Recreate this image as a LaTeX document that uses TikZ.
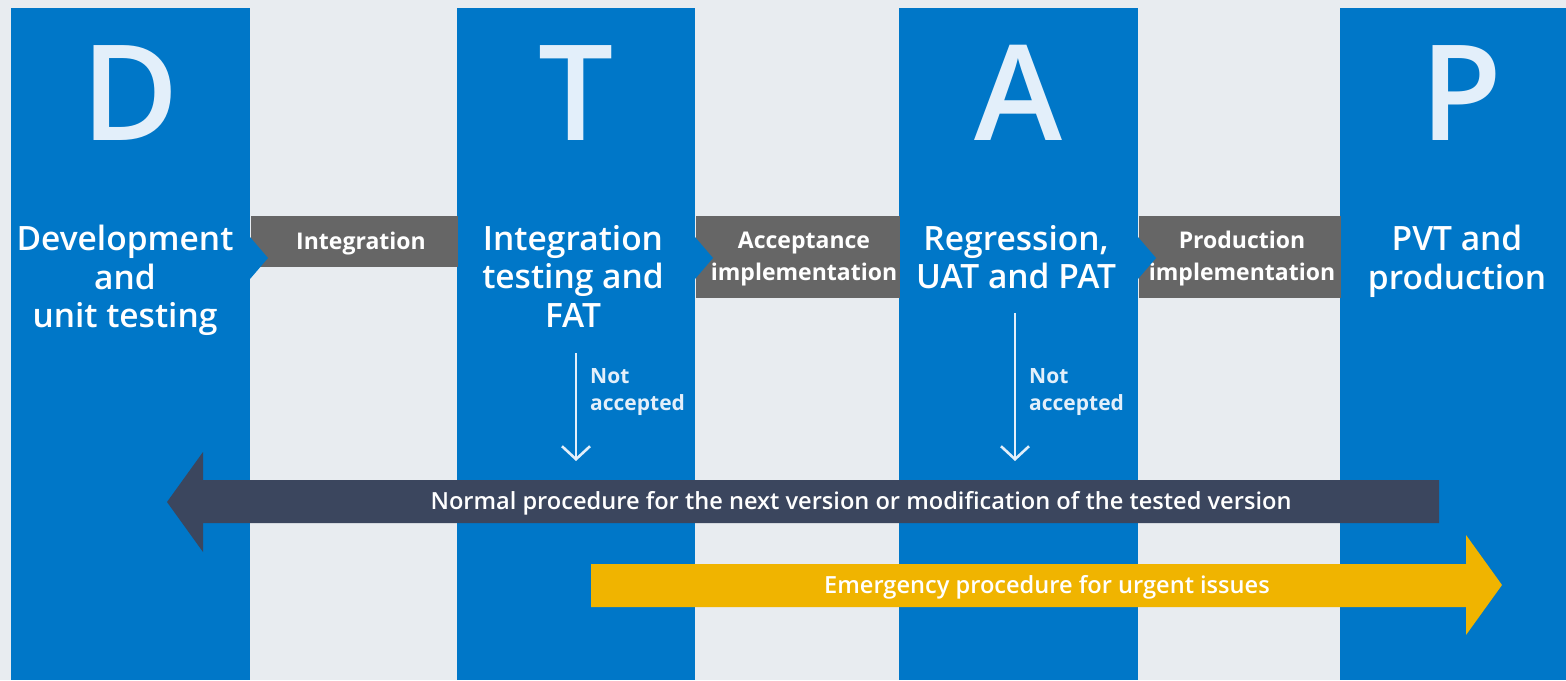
\documentclass[tikz,border=0pt]{standalone}
\usepackage{fontspec}
\setmainfont{Open Sans}
\newfontfamily\semib{Open Sans Semibold}
\usetikzlibrary{arrows.meta}
\definecolor{bgray}{HTML}{E8ECF0}
\definecolor{phaseblue}{HTML}{0077C8}
\definecolor{gatefill}{HTML}{666666}
\definecolor{letterfill}{HTML}{E3EFFA}
\definecolor{normalfill}{HTML}{3B465E}
\definecolor{urgentfill}{HTML}{F0B400}

\begin{document}
\begin{tikzpicture}[x=1pt, y=-1pt,
  phase/.style={fill=phaseblue, anchor=north west, inner sep=0pt, minimum height=672pt},
  letter/.style={anchor=base, inner sep=0pt, text=letterfill, font=\semib\fontsize{133}{133}\selectfont},
  phasetext/.style={anchor=north, inner sep=0pt, align=center, text=white, font=\semib\fontsize{33.5}{38.5}\selectfont},
  gate/.style={fill=gatefill, anchor=north west, inner sep=0pt},
  gatetext/.style={inner sep=0pt, align=center, text=white, font=\bfseries\fontsize{23}{32}\selectfont},
  reject/.style={draw=letterfill, line width=2.6pt, -{Straight Barb[length=13pt, width=28pt, line width=2.6pt]}},
  rejecttext/.style={anchor=north west, inner sep=0pt, align=left, text=letterfill, font=\bfseries\fontsize{21}{27}\selectfont},
  bartext/.style={inner sep=0pt, text=white, font=\semib\fontsize{23.6}{23.6}\selectfont}]
\useasboundingbox[fill=bgray] (0,0) rectangle (1566,680);

% phase columns
\node[phase, minimum width=239pt] (colD) at (11,8) {};
\node[phase, minimum width=238pt] (colT) at (457,8) {};
\node[phase, minimum width=239pt] (colA) at (899,8) {};
\node[phase, minimum width=226pt] (colP) at (1340,8) {};

\node[letter] (letD) at (colD.north |- 0,140) {D};
\node[letter] (letT) at (colT.north |- 0,140) {T};
\node[letter] (letA) at (colA.north |- 0,140) {A};
\node[letter] (letP) at (1461,140) {P};

\node[phasetext] (txtD) at (125,225) {Development\\and\\unit testing};
\node[phasetext] (txtT) at (573,225) {Integration\\testing and\\FAT};
\node[phasetext] (txtA) at (1016,225) {Regression,\\UAT and PAT};
\node[phasetext] (txtP) at (1457,225) {PVT and\\production};

% gates between the phases
\node[gate, minimum width=207pt, minimum height=51pt] (gateDT) at (colD.east |- 0,216) {};
\node[gate, minimum width=204pt, minimum height=82pt] (gateTA) at (colT.east |- 0,216) {};
\node[gate, minimum width=202pt, minimum height=82pt] (gateAP) at (colA.east |- 0,216) {};
\node[gatetext] (intg) at (361,244) {Integration};
\node[gatetext] (accp) at (804,259) {Acceptance\\implementation};
\node[gatetext] (prod) at (1242,259) {Production\\implementation};
\fill[phaseblue] (250,237) -- (268,258) -- (250,279) -- cycle;
\fill[phaseblue] (695,237) -- (713,258) -- (695,279) -- cycle;
\fill[phaseblue] (1138,237) -- (1156,258) -- (1138,279) -- cycle;

% not accepted
\coordinate (rejT) at (576,353);
\coordinate (backT) at (576,461);
\coordinate (rejA) at (1015,313);
\coordinate (backA) at (1015,461);
\draw[reject] (rejT) -- (backT);
\draw[reject] (rejA) -- (backA);
\node[rejecttext] (notT) at (590,368) {Not\\accepted};
\node[rejecttext] (notA) at (1029,368) {Not\\accepted};

% procedures
\fill[normalfill] (1439,480) -- (203,480) -- (203,452) -- (167,502) -- (203,552) -- (203,523) -- (1439,523) -- cycle;
\node[bartext] (normal) at (861,503) {Normal procedure for the next version or modification of the tested version};
\fill[urgentfill] (591,564) -- (1466,564) -- (1466,535) -- (1502,585) -- (1466,635) -- (1466,607) -- (591,607) -- cycle;
\node[bartext] (urgent) at (1047,587) {Emergency procedure for urgent issues};
\end{tikzpicture}
\end{document}
